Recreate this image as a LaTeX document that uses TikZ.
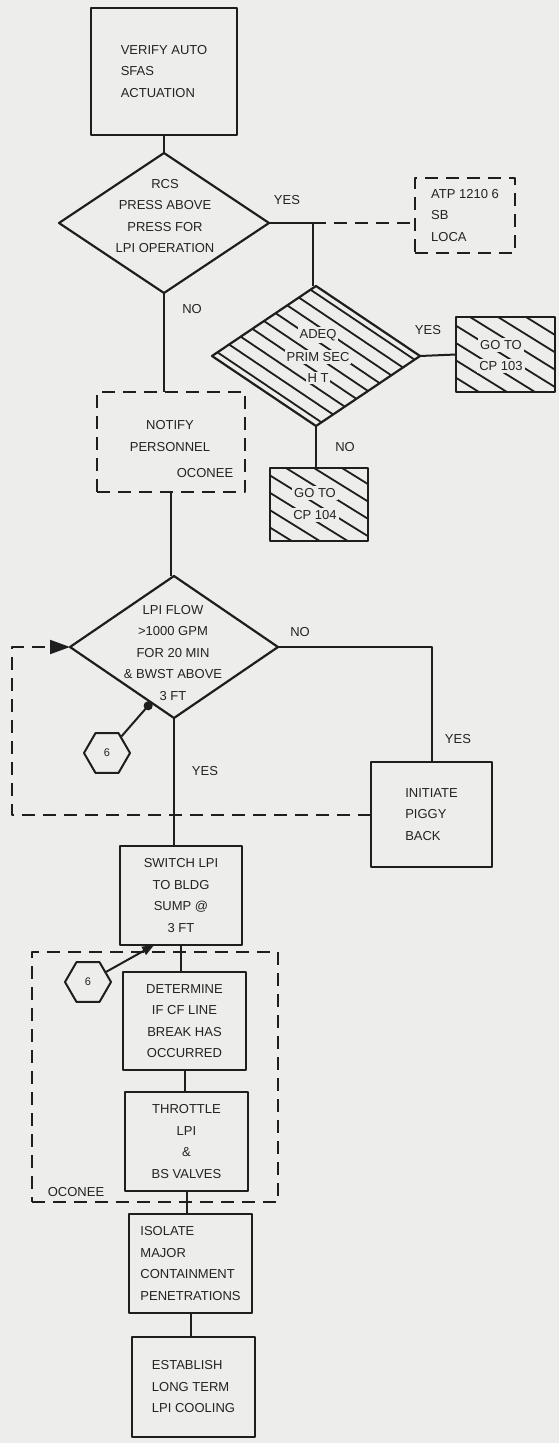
\documentclass[tikz,border=0pt]{standalone}
\usepackage{fontspec}
\setmainfont{Liberation Sans}
\usetikzlibrary{shapes.geometric,arrows.meta,calc}
\definecolor{bg}{RGB}{237,237,235}
\definecolor{ink}{RGB}{30,30,30}
\definecolor{txt}{RGB}{35,35,35}
\begin{document}
\begin{tikzpicture}[x=1pt,y=-1pt,line join=round,
  every node/.style={text=txt,font=\fontsize{13}{21.5}\selectfont},
  box/.style={draw=ink,line width=2.4pt,rectangle,inner sep=0pt,outer sep=0pt,align=center},
  dbox/.style={box,dash pattern=on 13pt off 8pt},
  dia/.style={draw=ink,line width=2.2pt,diamond,inner sep=0pt,outer sep=0pt},
  conn/.style={draw=ink,line width=2pt},
  dline/.style={conn,dash pattern=on 13pt off 8pt},
  hatch/.style={draw=ink,line width=1.8pt},
  hex/.style={draw=ink,line width=2pt,regular polygon,regular polygon sides=6,minimum size=46pt,inner sep=0pt,font=\fontsize{11}{11}\selectfont},
  lbl/.style={inner sep=1pt},
  cut/.style={fill=bg,inner sep=2pt}]
\fill[bg] (0,0) rectangle (559,1443);
\useasboundingbox (0,0) rectangle (559,1443);

% nodes
\node[box,minimum width=146pt,minimum height=127pt,align=left] (verify) at (164,71.5) {VERIFY AUTO\\SFAS\\ACTUATION};
\node[dia,minimum width=210pt,minimum height=140pt] (rcs) at (164,223) {};
\node[align=center] (rcsT) at (165,216) {RCS\\PRESS ABOVE\\PRESS FOR\\LPI OPERATION};
\coordinate (j1) at (313,223);
\node[dbox,minimum width=100pt,minimum height=75pt,align=left] (atp) at (465,215.5) {ATP 1210 6\\SB\\LOCA};
\node[dia,minimum width=208pt,minimum height=140pt] (adeq) at (316,356) {};
\node[box,minimum width=99pt,minimum height=75pt] (cp103) at (505.5,354.5) {};
\node[box,minimum width=98pt,minimum height=73pt] (cp104) at (319,504.5) {};

% hatching
\begin{scope}
  \clip (adeq.north) -- (adeq.east) -- (adeq.south) -- (adeq.west) -- cycle;
  \begin{scope}[shift={(adeq.center)}]
    \foreach \k in {-4,...,4} {\draw[hatch] (-7.25*\k-130,10.78*\k-87.5) -- ++(260,175);}
  \end{scope}
\end{scope}
\begin{scope}
  \clip (cp103.south west) rectangle (cp103.north east);
  \foreach \k in {-5,...,4} {\draw[hatch] ([xshift=\k*28pt+14pt]cp103.north west) -- ++(200,124);}
\end{scope}
\begin{scope}
  \clip (cp104.south west) rectangle (cp104.north east);
  \foreach \k in {-5,...,4} {\draw[hatch] ([xshift=\k*28pt+16pt]cp104.north west) -- ++(200,124);}
\end{scope}
\node[cut] (adeqA) at (318,335) {ADEQ};
\node[cut] (adeqB) at (318,357) {PRIM SEC};
\node[cut] (adeqC) at (318,378) {H T};
\node[cut] (cp103A) at (501,345) {GO TO};
\node[cut] (cp103B) at (501,366) {CP 103};
\node[cut] (cp104A) at (315,493) {GO TO};
\node[cut] (cp104B) at (315,515) {CP 104};

\node[dbox,minimum width=148pt,minimum height=100pt] (notify) at (171,442) {};
\node[align=center] (notifyT) at (170,436) {NOTIFY\\PERSONNEL};
\node (oc1) at (205,473) {OCONEE};

\node[dia,minimum width=208pt,minimum height=142pt] (lpi) at (174,647) {};
\node[align=center] (lpiT) at (173,653) {LPI FLOW\\>1000 GPM\\FOR 20 MIN\\\& BWST ABOVE\\3 FT};
\node[box,minimum width=121pt,minimum height=105pt,align=left] (init) at (431.5,814.5) {INITIATE\\PIGGY\\BACK};
\node[hex] (hex1) at (107,753) {6};
\coordinate (fb) at (12,0);

\node[box,minimum width=122pt,minimum height=99pt] (switch) at (181,895.5) {SWITCH LPI\\TO BLDG\\SUMP @\\3 FT};
\node[dbox,minimum width=246pt,minimum height=250pt] (ocbox) at (155,1077) {};
\node (oc2) at (76,1192) {OCONEE};
\node[hex] (hex2) at (88,982) {6};
\node[box,minimum width=123pt,minimum height=98pt] (determine) at (184.5,1021) {DETERMINE\\IF CF LINE\\BREAK HAS\\OCCURRED};
\node[box,minimum width=123pt,minimum height=99pt] (throttle) at (186.5,1141.5) {THROTTLE\\LPI\\\&\\BS VALVES};
\node[box,minimum width=123pt,minimum height=99pt,align=left] (isolate) at (190.5,1263.5) {ISOLATE\\MAJOR\\CONTAINMENT\\PENETRATIONS};
\node[box,minimum width=123pt,minimum height=100pt,align=left] (establish) at (193.5,1387) {ESTABLISH\\LONG TERM\\LPI COOLING};

% connectors
\draw[conn] (verify.south) -- (verify.south |- rcs.north);
\draw[conn] (rcs.east) -- (j1) -- (j1 |- adeq.north);
\draw[dline] (j1) -- (j1 -| atp.west);
\draw[conn] (adeq.east) -- (cp103.west);
\draw[conn] (adeq.south) -- (adeq.south |- cp104.north);
\draw[conn] (rcs.south) -- (rcs.south |- notify.north);
\draw[conn] (notify.south) -- (notify.south |- lpi.north);
\draw[conn] (lpi.east) -| (init.north);
\draw[conn] (lpi.south) -- (lpi.south |- switch.north);
\draw[dline,-{Triangle[length=20pt,width=14pt]}] (init.west) -- (init.west -| fb) |- (lpi.west);
\draw[conn,-{Circle[length=9pt]}] (hex1) -- ($(lpi.west)!0.78!(lpi.south)$);
\draw[conn] (switch.south) -- (switch.south |- determine.north);
\draw[conn,-{Triangle[length=12pt,width=9pt]}] (hex2) -- ($(switch.south west)!0.28!(switch.south east)$);
\draw[conn] (determine.south) -- (determine.south |- throttle.north);
\draw[conn] (throttle.south) -- (throttle.south |- isolate.north);
\draw[conn] (isolate.south) -- (isolate.south |- establish.north);

% labels
\node[lbl] (yes1) at (287,200) {YES};
\node[lbl] (no1) at (192,309) {NO};
\node[lbl] (yes2) at (428,330) {YES};
\node[lbl] (no2) at (345,447) {NO};
\node[lbl] (no3) at (300,632) {NO};
\node[lbl] (yes3) at (458,739) {YES};
\node[lbl] (yes4) at (205,771) {YES};
\end{tikzpicture}
\end{document}
